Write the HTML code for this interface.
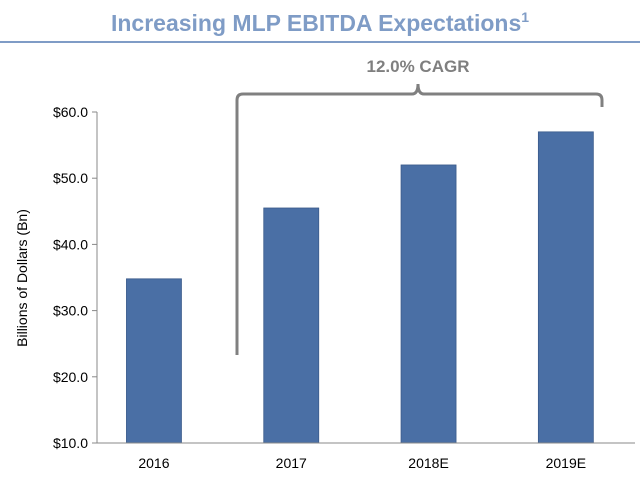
<!DOCTYPE html>
<html><head><meta charset="utf-8"><style>
body{margin:0;background:#fff;width:640px;height:482px;overflow:hidden;font-family:"Liberation Sans",sans-serif}
</style></head><body>
<svg width="640" height="482" xmlns="http://www.w3.org/2000/svg">
<text x="320" y="31" text-anchor="middle" font-size="23" font-weight="bold" fill="#7f9cc6">Increasing MLP EBITDA Expectations<tspan font-size="14" dy="-9">1</tspan></text>
<line x1="0" y1="42" x2="640" y2="42" stroke="#7f9cc6" stroke-width="2"/>
<text x="418" y="72" text-anchor="middle" font-size="17" font-weight="bold" fill="#7f7f7f">12.0% CAGR</text>
<path d="M237 355 V100 Q237 94 243 94 H412 Q418 94 418 84 Q418 94 424 94 H596 Q602 94 602 100 V107" fill="none" stroke="#808080" stroke-width="3"/>
<text transform="translate(27,278) rotate(-90)" text-anchor="middle" font-size="14" fill="#000">Billions of Dollars (Bn)</text>
<g id="plot"></g>
</svg>
<script>
const categories=["2016","2017","2018E","2019E"];
const values=[34.8,45.5,52.0,57.0];
const yTicks=[10,20,30,40,50,60];
const x0=97,x1=635,yBase=443,yTop=112,vMin=10,vMax=60;
const y=v=>yBase-(v-vMin)/(vMax-vMin)*(yBase-yTop);
const bandStart=85.3,bw=137.3;
const xc=i=>bandStart+bw*(i+0.5);
const g=document.getElementById('plot');
const NS="http://www.w3.org/2000/svg";
function mk(t,a){const e=document.createElementNS(NS,t);for(const k in a)e.setAttribute(k,a[k]);g.appendChild(e);return e;}
values.forEach((v,i)=>{
 const r=mk('rect',{x:xc(i)-27.5,y:y(v),width:55,height:yBase-y(v),fill:'#4a6fa5',stroke:'#3a5a8a','stroke-width':0.8});
 
 
 const t=mk('text',{x:xc(i),y:468,'text-anchor':'middle','font-size':14,fill:'#000'});
 t.textContent=categories[i];
 
 
});
yTicks.forEach(v=>{
 const l=mk('line',{x1:x0-5,y1:y(v),x2:x0,y2:y(v),stroke:'#888'});
 
 
 const t=mk('text',{x:x0-9,y:y(v)+5,'text-anchor':'end','font-size':14,fill:'#000'});
 t.textContent='$'+v.toFixed(1);
 
 
});
const ya=mk('line',{x1:x0,y1:yTop,x2:x0,y2:yBase,stroke:'#888'});


const xa=mk('line',{x1:x0,y1:yBase,x2:x1,y2:yBase,stroke:'#888'});


</script>
</body></html>
